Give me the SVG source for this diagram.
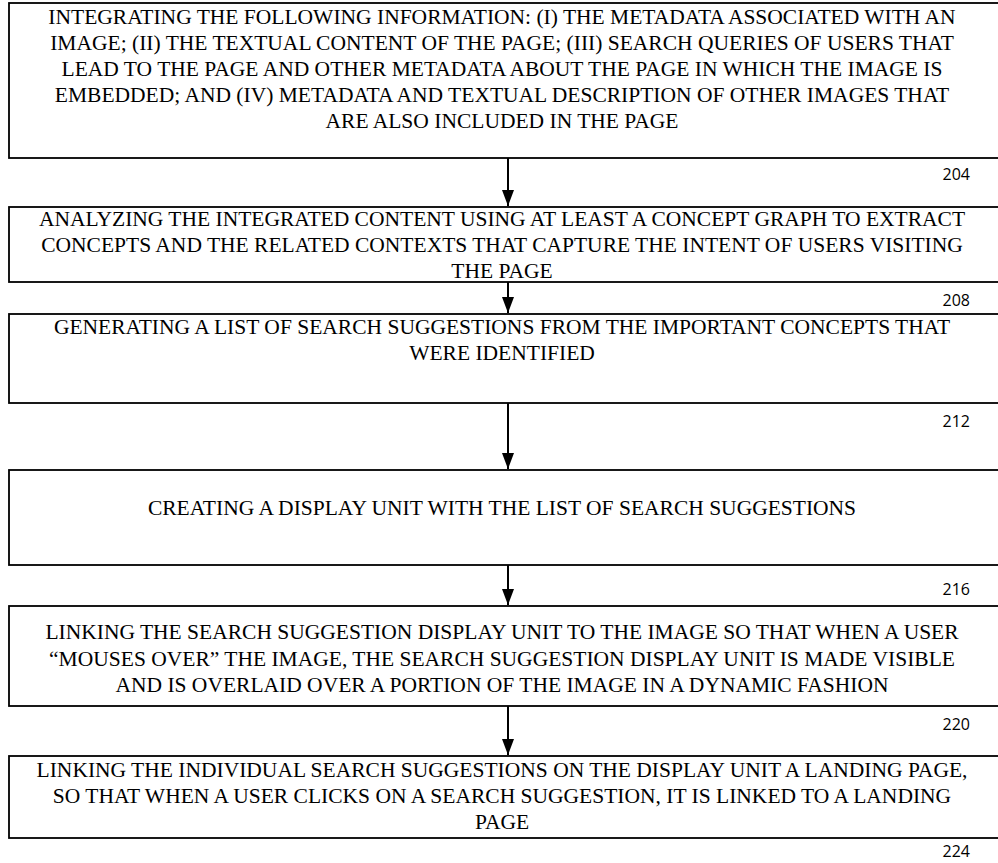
<svg xmlns="http://www.w3.org/2000/svg" width="998" height="863" viewBox="0 0 998 863">
<defs>
<style>
.box{fill:#fff;stroke:#000;stroke-width:1.8}
.t{font-family:"Liberation Serif","Times New Roman",serif;font-size:21.5px;fill:#000;text-anchor:middle}
.n{font-family:"Open Sans","Liberation Sans",sans-serif;font-size:16px;fill:#000;text-anchor:end}
.c{stroke:#000;stroke-width:2;fill:none}
</style>
<marker id="ah" viewBox="0 0 16 12" refX="16" refY="6" markerWidth="16" markerHeight="12" markerUnits="userSpaceOnUse" orient="auto">
<path d="M0,0 L16,6 L0,12 Z" fill="#000"/>
</marker>
</defs>
<rect width="998" height="863" fill="#fff"/>
<g id="n204">
<rect class="box" x="9" y="3" width="995" height="155"/>
<text class="t" x="502" y="24">INTEGRATING THE FOLLOWING INFORMATION: (I) THE METADATA ASSOCIATED WITH AN</text>
<text class="t" x="502" y="50">IMAGE; (II) THE TEXTUAL CONTENT OF THE PAGE; (III) SEARCH QUERIES OF USERS THAT</text>
<text class="t" x="502" y="76">LEAD TO THE PAGE AND OTHER METADATA ABOUT THE PAGE IN WHICH THE IMAGE IS</text>
<text class="t" x="502" y="102">EMBEDDED; AND (IV) METADATA AND TEXTUAL DESCRIPTION OF OTHER IMAGES THAT</text>
<text class="t" x="502" y="128">ARE ALSO INCLUDED IN THE PAGE</text>
<text class="n" x="970" y="180">204</text>
</g>
<g id="n208">
<rect class="box" x="9" y="207" width="995" height="75"/>
<text class="t" x="502" y="226">ANALYZING THE INTEGRATED CONTENT USING AT LEAST A CONCEPT GRAPH TO EXTRACT</text>
<text class="t" x="502" y="252">CONCEPTS AND THE RELATED CONTEXTS THAT CAPTURE THE INTENT OF USERS VISITING</text>
<text class="t" x="502" y="278">THE PAGE</text>
<text class="n" x="970" y="306">208</text>
</g>
<g id="n212">
<rect class="box" x="9" y="314" width="995" height="89"/>
<text class="t" x="502" y="334">GENERATING A LIST OF SEARCH SUGGESTIONS FROM THE IMPORTANT CONCEPTS THAT</text>
<text class="t" x="502" y="360">WERE IDENTIFIED</text>
<text class="n" x="970" y="427">212</text>
</g>
<g id="n216">
<rect class="box" x="9" y="470" width="995" height="95"/>
<text class="t" x="502" y="515">CREATING A DISPLAY UNIT WITH THE LIST OF SEARCH SUGGESTIONS</text>
<text class="n" x="970" y="595">216</text>
</g>
<g id="n220">
<rect class="box" x="9" y="606" width="995" height="100"/>
<text class="t" x="502" y="639">LINKING THE SEARCH SUGGESTION DISPLAY UNIT TO THE IMAGE SO THAT WHEN A USER</text>
<text class="t" x="502" y="666">“MOUSES OVER” THE IMAGE, THE SEARCH SUGGESTION DISPLAY UNIT IS MADE VISIBLE</text>
<text class="t" x="502" y="692">AND IS OVERLAID OVER A PORTION OF THE IMAGE IN A DYNAMIC FASHION</text>
<text class="n" x="970" y="730">220</text>
</g>
<g id="n224">
<rect class="box" x="9" y="756" width="995" height="82"/>
<text class="t" x="502" y="777">LINKING THE INDIVIDUAL SEARCH SUGGESTIONS ON THE DISPLAY UNIT A LANDING PAGE,</text>
<text class="t" x="502" y="803">SO THAT WHEN A USER CLICKS ON A SEARCH SUGGESTION, IT IS LINKED TO A LANDING</text>
<text class="t" x="502" y="829">PAGE</text>
<text class="n" x="970" y="857">224</text>
</g>
<g id="connectors">
<line class="c" x1="508" y1="158" x2="508" y2="206" marker-end="url(#ah)"/>
<line class="c" x1="508" y1="282" x2="508" y2="313" marker-end="url(#ah)"/>
<line class="c" x1="508" y1="403" x2="508" y2="469" marker-end="url(#ah)"/>
<line class="c" x1="508" y1="565" x2="508" y2="605" marker-end="url(#ah)"/>
<line class="c" x1="508" y1="706" x2="508" y2="755" marker-end="url(#ah)"/>
</g>
</svg>
